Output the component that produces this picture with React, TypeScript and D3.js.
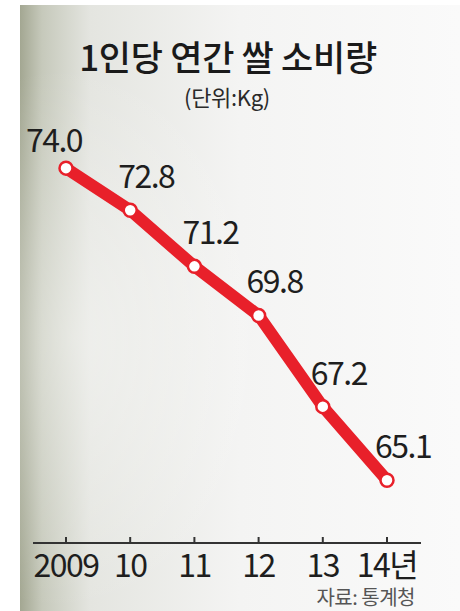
import React from "react";
import * as d3 from "d3";

const years = ["2009", "10", "11", "12", "13", "14년"];
const values = [74.0, 72.8, 71.2, 69.8, 67.2, 65.1];
const valueLabels = ["74.0", "72.8", "71.2", "69.8", "67.2", "65.1"];
const title = "1인당 연간 쌀 소비량";
const unit = "(단위:Kg)";
const source = "자료: 통계청";

const W = 460;
const H = 611;
const FONT = "'Noto Sans CJK KR', 'Noto Sans', sans-serif";

export default function App() {
  const x = d3.scalePoint<string>().domain(years).range([66, 387]);
  const y = d3.scaleLinear().domain([62, 76]).range([589, 98]);
  const line = d3
    .line<number>()
    .x((_, i) => x(years[i]) as number)
    .y((d) => y(d));
  const axisY = 543;

  return (
    <svg
      width={W}
      height={H}
      style={{ position: "absolute", left: 0, top: 0 }}
      fontFamily={FONT}
    >
      <defs>
        <linearGradient id="bg" x1="0" y1="0" x2="1" y2="0">
          <stop offset="0" stopColor="#a3a792" />
          <stop offset="0.05" stopColor="#c6c9bb" />
          <stop offset="0.16" stopColor="#e4e5e0" />
          <stop offset="0.5" stopColor="#f4f4f3" />
          <stop offset="1" stopColor="#fafafa" />
        </linearGradient>
        <radialGradient id="shade" cx="0.12" cy="0.55" r="0.45">
          <stop offset="0" stopColor="#ffffff" stopOpacity="0.4" />
          <stop offset="1" stopColor="#ffffff" stopOpacity="0" />
        </radialGradient>
      </defs>
      <rect x={0} y={0} width={W} height={H} fill="#ffffff" />
      <rect x={20} y={5} width={W - 20} height={H - 5} fill="url(#bg)" />
      <rect x={20} y={5} width={W - 20} height={H - 5} fill="url(#shade)" />

      <text
        x={228}
        y={71}
        textAnchor="middle"
        fontSize={35}
        fontWeight={500}
        fill="#1a1a1a"
        letterSpacing={-0.3}
      >
        {title}
      </text>
      <text
        x={227}
        y={106}
        textAnchor="middle"
        fontSize={22}
        fill="#2a2a2a"
        letterSpacing={-0.3}
      >
        {unit}
      </text>

      <line x1={33} x2={421} y1={axisY} y2={axisY} stroke="#333" strokeWidth={2} />
      {years.map((yr) => (
        <line
          key={"t" + yr}
          x1={x(yr)}
          x2={x(yr)}
          y1={axisY}
          y2={axisY - 6}
          stroke="#333"
          strokeWidth={2}
        />
      ))}
      {years.map((yr) => (
        <text
          key={"l" + yr}
          x={x(yr)}
          y={577}
          textAnchor="middle"
          fontSize={32}
          fill="#1e1e1e"
          letterSpacing={-1.5}
        >
          {yr}
        </text>
      ))}
      <text x={415} y={605} textAnchor="end" fontSize={20} fill="#555" letterSpacing={-0.5}>
        {source}
      </text>

      <path
        d={line(values) || ""}
        fill="none"
        stroke="#e8202a"
        strokeWidth={12}
        strokeLinejoin="round"
        strokeLinecap="round"
      />
      {values.map((v, i) => (
        <circle
          key={"c" + i}
          cx={x(years[i])}
          cy={y(v)}
          r={6.5}
          fill="#ffffff"
          stroke="#e8202a"
          strokeWidth={2.5}
        />
      ))}
      {values.map((v, i) => (
        <text
          key={"v" + i}
          x={(x(years[i]) as number) - 12}
          y={y(v) - (i === 0 ? 16 : 22)}
          textAnchor={i === 0 ? "middle" : "start"}
          fontSize={32}
          fill="#1e1e1e"
          letterSpacing={-1.5}
        >
          {valueLabels[i]}
        </text>
      ))}
    </svg>
  );
}
